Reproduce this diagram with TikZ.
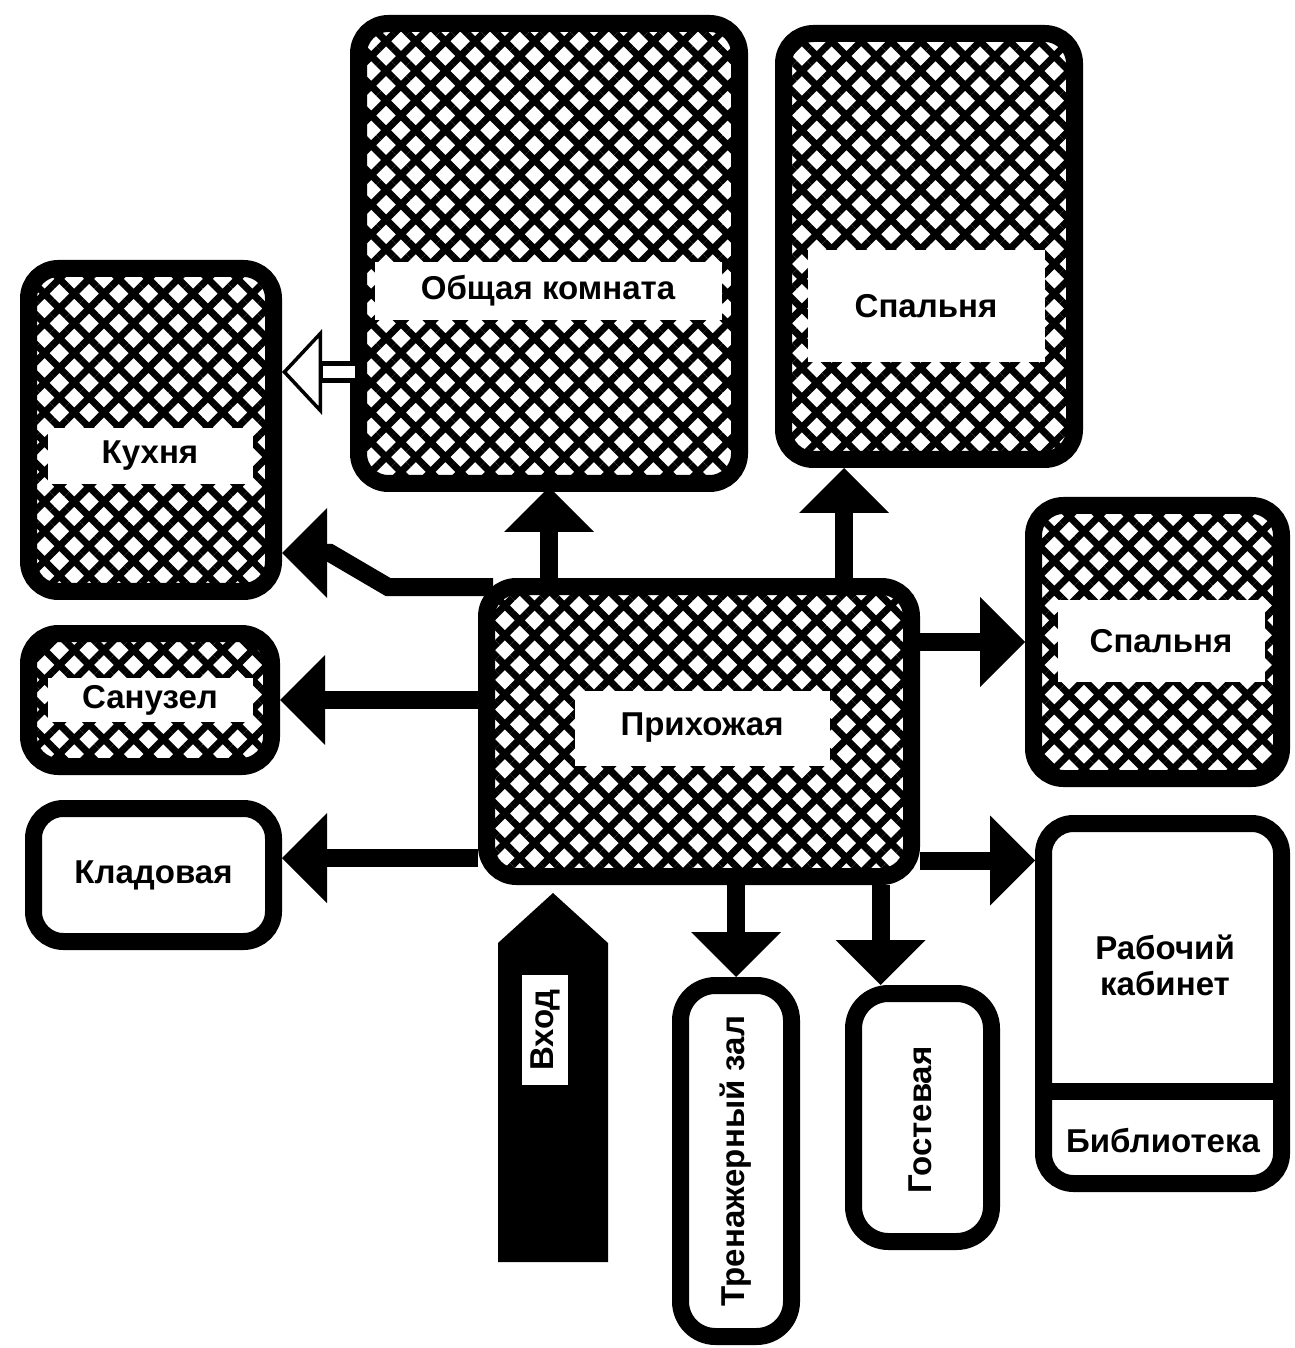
\documentclass[tikz,border=0pt]{standalone}
\usepackage{fontspec}
\setmainfont{Liberation Sans}
\usetikzlibrary{arrows.meta,patterns.meta}
\newcommand\roomfont{\bfseries\fontsize{9.4pt}{10.2pt}\selectfont}

\begin{document}
\begin{tikzpicture}[x=0.1mm,y=-0.1mm,
  room/.style={draw,line width=1.7mm,rounded corners=3mm,inner sep=0pt},
  hatched/.style={room,pattern={Hatch[angle=45,distance=2.1mm,line width=0.7mm]}},
  band/.style={fill=white,inner sep=0pt,font=\roomfont},
  roomtext/.style={font=\roomfont,align=center},
  link/.style={line width=1.8mm,-{Triangle[width=9mm,length=4.5mm,line width=0pt]}}]
\useasboundingbox (0,0) rectangle (1294,1348);
\node[hatched,minimum width=38.1mm,minimum height=46mm] (obsh) at (549,253.5) {};
\node[band,minimum width=34.7mm,minimum height=5.8mm] (obshtxt) at (548,291) {Общая комната};
\node[hatched,minimum width=29.1mm,minimum height=42.6mm] (spal1) at (929,246.5) {};
\node[band,minimum width=23.7mm,minimum height=11.2mm] (spal1txt) at (926,306) {Спальня};
\node[hatched,minimum width=24.5mm,minimum height=32.3mm] (kux) at (151,430) {};
\node[band,minimum width=20.5mm,minimum height=5.6mm] (kuxtxt) at (150,456) {Кухня};
\node[hatched,minimum width=24.3mm,minimum height=13.3mm] (sanu) at (150,700) {};
\node[band,minimum width=20.5mm,minimum height=4.4mm] (sanutxt) at (150,700) {Санузел};
\node[room,minimum width=24mm,minimum height=13.3mm,font=\roomfont] (klad) at (153.5,875) {Кладовая};
\node[hatched,minimum width=42.5mm,minimum height=29mm] (hall) at (699,731.5) {};
\node[band,minimum width=25.5mm,minimum height=7.5mm] (halltxt) at (702,728) {Прихожая};
\node[hatched,minimum width=24.8mm,minimum height=27.3mm] (spal2) at (1157.5,642) {};
\node[band,minimum width=20.7mm,minimum height=8.2mm] (spal2txt) at (1161,641) {Спальня};
\node[room,minimum width=23.8mm,minimum height=36mm] (kab) at (1162.5,1003.5) {};
\draw[line width=1.7mm] (kab.west |- 0,1091) -- (kab.east |- 0,1091);
\node[roomtext] (kabtxt) at (1165,965) {Рабочий\\кабинет};
\node[roomtext] (bibl) at (1163,1141) {Библиотека};
\node[room,rounded corners=3.5mm,minimum width=11.1mm,minimum height=35.1mm] (tren) at (736,1161) {};
\node[roomtext,rotate=90] (trentxt) at (736,1161) {Тренажерный зал};
\node[room,rounded corners=3.5mm,minimum width=13.8mm,minimum height=24.8mm] (gost) at (922.5,1117.5) {};
\node[roomtext,rotate=90] (gosttxt) at (920,1120) {Гостевая};
\fill (498,1262) -- (498,943) -- (553,893) -- (608,943) -- (608,1262) -- cycle;
\node[band,rotate=90,minimum width=11mm,minimum height=4.6mm] (vhod) at (545,1030) {Вход};

\coordinate (sp1door) at ([xshift=-8.5mm]spal1.south);
\coordinate (gsdoor) at ([xshift=-4.2mm]gost.north);
\coordinate (kldoor) at ([yshift=1.7mm]klad.east);
\coordinate (kbdoor) at ([yshift=14.3mm]kab.west);
\coordinate (kxdoor) at ([yshift=5.8mm]kux.east);
\coordinate (kxdoor2) at ([yshift=-12.3mm]kux.east);
\coordinate (kxbend1) at (388,587);
\coordinate (kxbend2) at (330,553);
\draw[link] (hall.north -| obsh.south) -- (obsh.south);
\draw[link] (hall.north -| sp1door) -- (sp1door);
\draw[link] ([xshift=1.5mm,yshift=-0.9mm]hall.north west) -- (kxbend1) -- (kxbend2) -- (kxdoor2);
\draw[link] (hall.west |- sanu.east) -- (sanu.east);
\draw[link] (hall.west |- kldoor) -- (kldoor);
\draw[link] (hall.east |- spal2.west) -- (spal2.west);
\draw[link] (hall.east |- kbdoor) -- (kbdoor);
\draw[link] (hall.south -| tren.north) -- (tren.north);
\draw[link] (hall.south -| gsdoor) -- (gsdoor);
\draw[line width=2.2mm,-{Triangle[width=8.5mm,length=4mm,fill=white,line width=0.35mm]}] (obsh.west |- kxdoor) -- (kxdoor);
\draw[white,line width=1.2mm] (obsh.west |- kxdoor) -- ([xshift=4.1mm]kxdoor);
\end{tikzpicture}
\end{document}
